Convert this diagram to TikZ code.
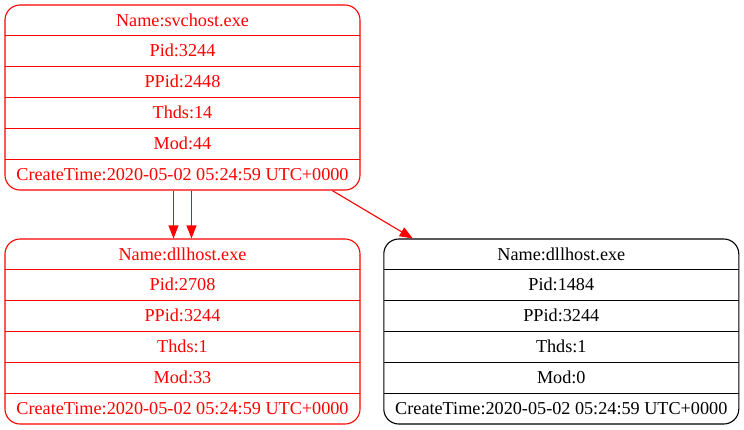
\documentclass[tikz,border=0pt]{standalone}
\usepackage{fontspec}
\setmainfont{Liberation Serif}
\usetikzlibrary{arrows.meta,calc}
\definecolor{pred}{RGB}{255,0,0}
\tikzset{
  rec/.style={draw, rounded corners=15pt, minimum width=355pt, minimum height=185pt, inner sep=0pt, line width=1.1pt},
  txt/.style={font=\fontsize{18.2}{20}\selectfont, inner sep=0pt, anchor=base},
  edge/.style={color=pred, line width=1.1pt, -{Triangle[length=13pt,width=10pt]}}
}
\newcommand{\ProcRec}[5]{%
  \node[rec, color=#4] (#1) at (#2, #3+92.5) {};
  \foreach \k in {1,...,5}{
    \draw[color=#4, line width=1.1pt] (#2-177.5, #3+30.833*\k) -- (#2+177.5, #3+30.833*\k);
  }
  \foreach \t [count=\i] in {#5}{
    \node[txt, text=#4] (#1-\i) at (#2, #3+30.833*\i-15.42+5.6) {\t};
  }
}
\begin{document}
\begin{tikzpicture}[x=1pt, y=-1pt]
  \useasboundingbox (0,0) rectangle (744,429);
  \ProcRec{top}{182.5}{5}{pred}{Name:svchost.exe,Pid:3244,PPid:2448,Thds:14,Mod:44,CreateTime:2020-05-02 05:24:59 UTC+0000}
  \ProcRec{left}{182.5}{239}{pred}{Name:dllhost.exe,Pid:2708,PPid:3244,Thds:1,Mod:33,CreateTime:2020-05-02 05:24:59 UTC+0000}
  \ProcRec{right}{561.3}{239}{black}{Name:dllhost.exe,Pid:1484,PPid:3244,Thds:1,Mod:0,CreateTime:2020-05-02 05:24:59 UTC+0000}
  \draw[edge] ($(top.south)+(-9,0)$) -- ($(left.north)+(-9,0)$);
  \draw[edge] ($(top.south)+(9,0)$) -- ($(left.north)+(9,0)$);
  \draw[edge] ($(top.south east)+(-28.3,0)$) -- ($(right.north west)+(29.5,0)$);
\end{tikzpicture}
\end{document}
